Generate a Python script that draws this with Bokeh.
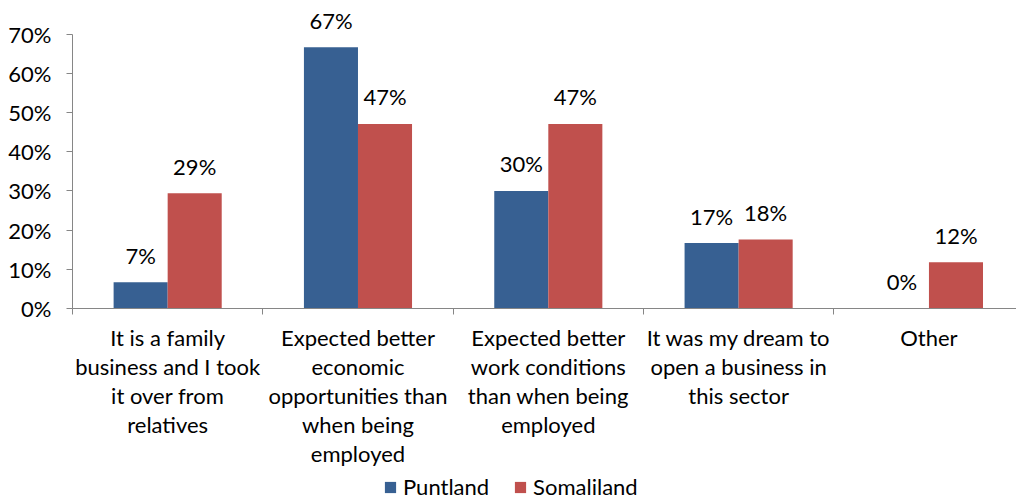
from bokeh.plotting import figure
from bokeh.layouts import column
from bokeh.models import (ColumnDataSource, Range1d, FixedTicker, NumeralTickFormatter,
                          LabelSet, Legend, LegendItem)
from bokeh.core.properties import value
from bokeh.transform import dodge
from bokeh.embed import file_html
from bokeh.resources import INLINE

categories = [
    "It is a family\nbusiness and I took\nit over from\nrelatives",
    "Expected better\neconomic\nopportunities than\nwhen being\nemployed",
    "Expected better\nwork conditions\nthan when being\nemployed",
    "It was my dream to\nopen a business in\nthis sector",
    "Other",
]
series_names = ["Puntland", "Somaliland"]
puntland = [6.7, 66.7, 30.0, 16.7, 0.0]
somaliland = [29.4, 47.1, 47.1, 17.6, 11.8]
y_ticks = [0, 10, 20, 30, 40, 50, 60, 70]

FONT = "Lato"
FS = "22px"
BLUE = "#376092"
RED = "#C0504D"
AXIS = "#868686"

pos = [i + 0.5 for i in range(len(categories))]
src = ColumnDataSource(dict(
    x=pos,
    p=[v / 100 for v in puntland],
    s=[v / 100 for v in somaliland],
    pl=[f"{round(v):.0f}%" for v in puntland],
    sl=[f"{round(v):.0f}%" for v in somaliland],
))

p = figure(width=1016, height=470, output_backend="svg", toolbar_location=None,
           x_range=Range1d(0, 4.96), y_range=Range1d(0, 0.786),
           min_border_left=72, min_border_right=0, min_border_top=0, min_border_bottom=160)
p.outline_line_color = None
p.xgrid.grid_line_color = None
p.ygrid.grid_line_color = None

bw = 0.284
r1 = p.vbar(x=dodge("x", -bw / 2, range=p.x_range), top="p", width=bw, source=src,
            fill_color=BLUE, line_color=None)
r2 = p.vbar(x=dodge("x", bw / 2, range=p.x_range), top="s", width=bw, source=src,
            fill_color=RED, line_color=None)

for col, lab, off in (("p", "pl", -bw / 2), ("s", "sl", bw / 2)):
    ls = LabelSet(x=dodge("x", off, range=p.x_range), y=col, text=lab, source=src,
                  text_align="center", text_baseline="middle", y_offset=27,
                  text_font=value(FONT), text_font_size=value(FS), text_color="#000000")
    p.add_layout(ls)

# y axis
p.yaxis.ticker = FixedTicker(ticks=[t / 100 for t in y_ticks])
p.yaxis.bounds = (0, 0.70)
p.yaxis.formatter = NumeralTickFormatter(format="0%")
p.yaxis.axis_line_color = AXIS
p.yaxis.major_tick_line_color = AXIS
p.yaxis.major_tick_out = 6
p.yaxis.major_tick_in = 0
p.yaxis.minor_tick_line_color = None
p.yaxis.major_label_text_font = FONT
p.yaxis.major_label_text_font_size = FS
p.yaxis.major_label_text_color = "#000000"
p.yaxis.major_label_standoff = 15

# x axis
p.xaxis.ticker = FixedTicker(ticks=pos, minor_ticks=list(range(len(categories) + 1)))
p.xaxis.major_label_overrides = {x: c for x, c in zip(pos, categories)}
p.xaxis.axis_line_color = AXIS
p.xaxis.major_tick_line_color = None
p.xaxis.minor_tick_line_color = AXIS
p.xaxis.minor_tick_out = 6
p.xaxis.minor_tick_in = 0
p.xaxis.major_label_text_font = FONT
p.xaxis.major_label_text_font_size = FS
p.xaxis.major_label_text_color = "#000000"
p.xaxis.major_label_text_line_height = 1.08
p.xaxis.major_label_standoff = 9

# legend strip (bars lie outside this strip's y range, only the legend shows)
q = figure(width=1016, height=30, output_backend="svg", toolbar_location=None,
           x_range=Range1d(0, 4.96), y_range=Range1d(2, 3),
           x_axis_location=None, y_axis_location=None, min_border=0)
q.outline_line_color = None
q.xgrid.grid_line_color = None
q.ygrid.grid_line_color = None
lr1 = q.vbar(x="x", top="p", width=bw, source=src, fill_color=BLUE, line_color=None)
lr2 = q.vbar(x="x", top="s", width=bw, source=src, fill_color=RED, line_color=None)
legend = Legend(items=[LegendItem(label=series_names[0], renderers=[lr1]),
                       LegendItem(label=series_names[1], renderers=[lr2])],
                orientation="horizontal", location=(311, 0),
                label_text_font=FONT, label_text_font_size=FS, label_text_color="#000000",
                glyph_width=14, glyph_height=14, label_standoff=6, spacing=24,
                padding=0, margin=0, border_line_color=None, background_fill_alpha=0)
q.add_layout(legend, "center")

open("out.html", "w").write(file_html(column(p, q), INLINE))
